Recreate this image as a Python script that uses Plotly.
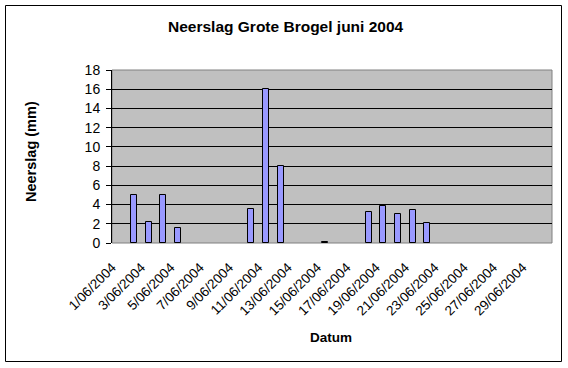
import plotly.graph_objects as go

# Data: daily precipitation (mm), Grote Brogel, June 2004
days = list(range(1, 31))
labels = [f"{d}/06/2004" for d in days]
rain_mm = [0, 5.0, 2.2, 5.0, 1.6, 0, 0, 0, 0, 3.5,
           16.0, 8.0, 0, 0, 0.1, 0, 0, 3.2, 3.8, 3.0,
           3.4, 2.1, 0, 0, 0, 0, 0, 0, 0, 0]
label_days = days[::2]
label_text = labels[::2]
tick_bounds = [d - 0.5 for d in days[::2]] + [days[-1] + 0.5]

W, H = 568, 368
L, R, T, B = 112, 16, 70, 125
pw, ph = W - L - R, H - T - B

def px_x(px):
    return (px - L) / pw

def px_y(py):
    return (H - B - py) / ph

FONT = "Arial, Liberation Sans, sans-serif"
LABEL_SHIFT = 0.5  # labels sit slightly left of the category centre

fig = go.Figure()
fig.add_trace(go.Bar(
    x=days, y=[v if v else None for v in rain_mm], width=0.4,
    marker=dict(color="#9999FF", line=dict(color="black", width=1)),
    xaxis="x2", yaxis="y",
))

fig.update_layout(
    width=W, height=H,
    margin=dict(l=L, r=R, t=T, b=B),
    paper_bgcolor="white",
    plot_bgcolor="#C0C0C0",
    showlegend=False,
    bargap=0,
    font=dict(family=FONT, color="black", size=13),
    xaxis=dict(
        range=[0.5, 30.5],
        tickmode="array", tickvals=tick_bounds,
        showticklabels=False,
        ticks="outside", ticklen=5, tickcolor="black", tickwidth=1,
        showline=True, linecolor="black", linewidth=1,
        showgrid=False, zeroline=False,
        fixedrange=True,
    ),
    xaxis2=dict(
        range=[0.5, 30.5], overlaying="x", anchor="y", side="bottom",
        tickmode="array", tickvals=[d - LABEL_SHIFT for d in label_days], ticktext=label_text,
        ticks="", tickangle=-45, ticklabelstandoff=13,
        tickfont=dict(family=FONT, size=13.5, color="black"),
        showline=False, showgrid=False, zeroline=False,
    ),
    yaxis=dict(
        range=[0, 18], dtick=2, tick0=0,
        ticks="outside", ticklen=5, tickcolor="black", tickwidth=1,
        ticklabelstandoff=3,
        tickfont=dict(family=FONT, size=14, color="black"),
        showline=True, linecolor="black", linewidth=1,
        showgrid=True, gridcolor="black", gridwidth=1,
        zeroline=False,
    ),
    shapes=[
        dict(type="rect", xref="paper", yref="paper", x0=0, y0=0, x1=1, y1=1,
             line=dict(color="#808080", width=1), layer="below"),
        dict(type="rect", xref="paper", yref="paper",
             x0=px_x(5.5), x1=px_x(561.5), y0=px_y(361.5), y1=px_y(5.5),
             line=dict(color="black", width=1)),
    ],
    annotations=[
        dict(text="<b>Neerslag Grote Brogel juni 2004</b>", xref="paper", yref="paper",
             x=px_x(286), y=px_y(27), showarrow=False,
             font=dict(family=FONT, size=15.5, color="black"), xanchor="center", yanchor="middle"),
        dict(text="<b>Neerslag (mm)</b>", xref="paper", yref="paper",
             x=px_x(31), y=px_y(152), showarrow=False, textangle=-90,
             font=dict(family=FONT, size=14.5, color="black"), xanchor="center", yanchor="middle"),
        dict(text="<b>Datum</b>", xref="paper", yref="paper",
             x=px_x(331), y=px_y(337), showarrow=False,
             font=dict(family=FONT, size=13.5, color="black"), xanchor="center", yanchor="middle"),
    ],
)

fig.write_html("out.html")
